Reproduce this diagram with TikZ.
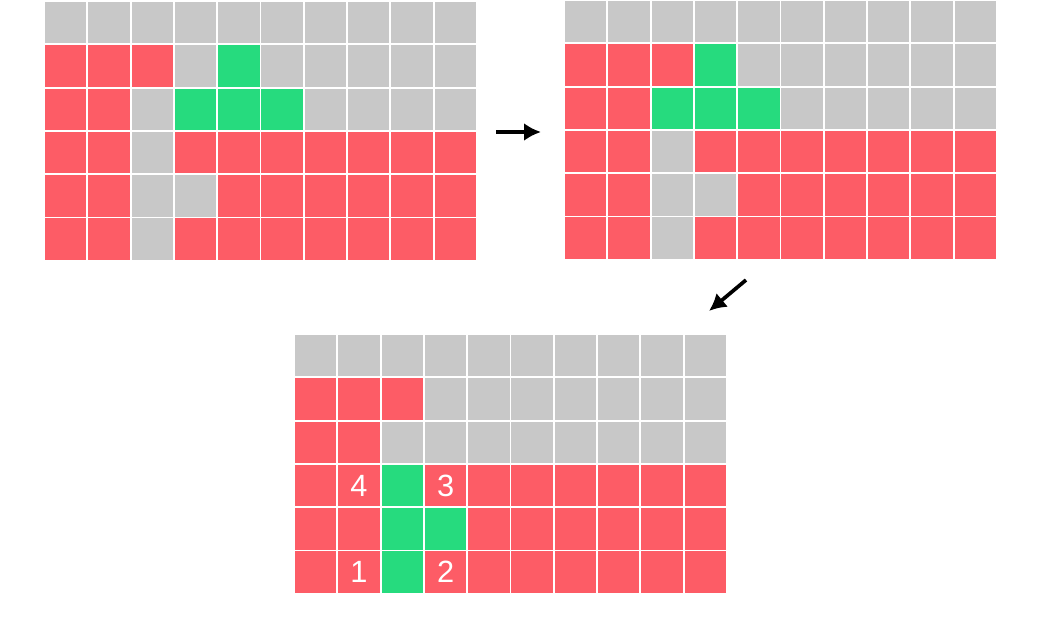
\documentclass[tikz,border=0pt]{standalone}
\usepackage{fontspec}
\setmainfont{Liberation Sans}
\usetikzlibrary{arrows.meta}
\definecolor{CellRed}{HTML}{FD5C66}
\definecolor{CellGray}{HTML}{C8C8C8}
\definecolor{CellGreen}{HTML}{26DB7E}
\begin{document}
\begin{tikzpicture}[
x=0.02cm,y=-0.02cm,
cell/.style={draw=white,line width=1.1pt,inner sep=0pt,minimum size=0.866cm},
r/.style={cell,fill=CellRed},
g/.style={cell,fill=CellGray},
n/.style={cell,fill=CellGreen},
num/.style={text=white,font=\fontsize{17.5}{17.5}\selectfont},
arr/.style={-{Latex[length=3.4mm,width=3.6mm]},line width=2.1pt}
]
\useasboundingbox (0,0) rectangle (1038,629);
% first grid
\foreach \rowlist [count=\r from 0] in {
{g,g,g,g,g,g,g,g,g,g},
{r,r,r,g,n,g,g,g,g,g},
{r,r,g,n,n,n,g,g,g,g},
{r,r,g,r,r,r,r,r,r,r},
{r,r,g,g,r,r,r,r,r,r},
{r,r,g,r,r,r,r,r,r,r}}
\foreach \c [count=\col from 0] in \rowlist
\node[\c] (a-\r-\col) at (44+43.3*\col+21.65,1+43.3*\r+21.65) {};
% second grid
\foreach \rowlist [count=\r from 0] in {
{g,g,g,g,g,g,g,g,g,g},
{r,r,r,n,g,g,g,g,g,g},
{r,r,n,n,n,g,g,g,g,g},
{r,r,g,r,r,r,r,r,r,r},
{r,r,g,g,r,r,r,r,r,r},
{r,r,g,r,r,r,r,r,r,r}}
\foreach \c [count=\col from 0] in \rowlist
\node[\c] (b-\r-\col) at (564+43.3*\col+21.65,0+43.3*\r+21.65) {};
% third grid
\foreach \rowlist [count=\r from 0] in {
{g,g,g,g,g,g,g,g,g,g},
{r,r,r,g,g,g,g,g,g,g},
{r,r,g,g,g,g,g,g,g,g},
{r,r,n,r,r,r,r,r,r,r},
{r,r,n,n,r,r,r,r,r,r},
{r,r,n,r,r,r,r,r,r,r}}
\foreach \c [count=\col from 0] in \rowlist
\node[\c] (c-\r-\col) at (294+43.3*\col+21.65,334+43.3*\r+21.65) {};
% numbers
\node[num] at (c-3-1) {4};
\node[num] at (c-3-3) {3};
\node[num] at (c-5-1) {1};
\node[num] at (c-5-3) {2};
% arrows
\coordinate (s1) at (496,132);
\coordinate (e1) at (541,132);
\coordinate (s2) at (746,280);
\coordinate (e2) at (709,311);
\draw[arr] (s1) -- (e1);
\draw[arr] (s2) -- (e2);
\end{tikzpicture}
\end{document}
